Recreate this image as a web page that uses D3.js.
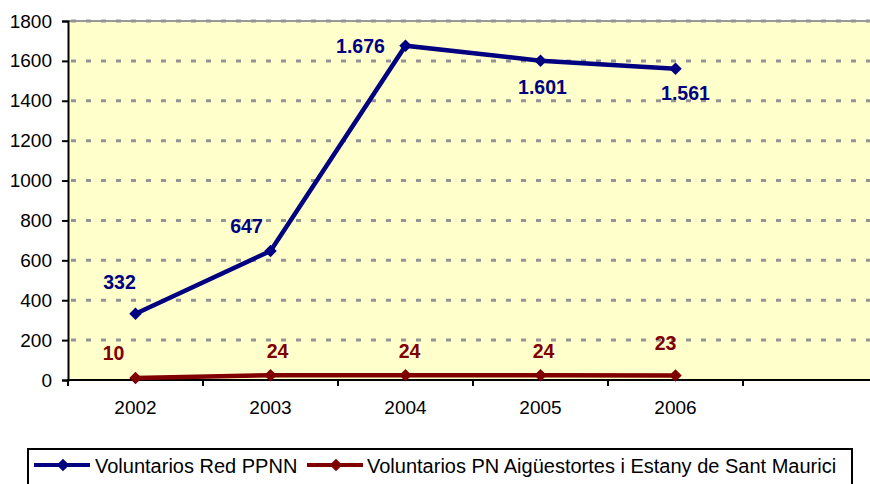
<!DOCTYPE html>
<html>
<head>
<meta charset="utf-8">
<script src="https://cdn.jsdelivr.net/npm/d3@7"></script>
<style>
  body { margin: 0; background: #fff; }
  svg { display: block; font-family: "Liberation Sans", Arial, sans-serif; }
</style>
</head>
<body>
<div id="chart"></div>
<script>
// categories (last slot is empty on the original axis)
const years = ["2002", "2003", "2004", "2005", "2006", ""];
const redPPNN = [332, 647, 1676, 1601, 1561];
const aiguestortes = [10, 24, 24, 24, 23];
const yTicks = [0, 200, 400, 600, 800, 1000, 1200, 1400, 1600, 1800];
const seriesNames = ["Voluntarios Red PPNN", "Voluntarios PN Aigüestortes i Estany de Sant Maurici"];

// label placement relative to each point (dx, dy of text baseline)
const blueLabelOffsets = [[-16, -25], [-24, -18], [-45, 7], [2, 33], [10, 31]];
const redLabelOffsets = [[-22, -18], [7, -17], [4, -17], [3, -17], [-10, -25]];

const width = 870, height = 484;
const plot = {left: 68, top: 21, bottom: 380, right: 878};

const svg = d3.select("#chart").append("svg")
    .attr("width", width)
    .attr("height", height);

const x = d3.scaleBand().domain(years).range([plot.left, plot.right]);
const y = d3.scaleLinear().domain([0, 1800]).range([plot.bottom, plot.top]);
const cx = d => x(d) + x.bandwidth() / 2;

const fmt = d3.formatLocale({decimal: ",", thousands: ".", grouping: [3], currency: ["", "€"]}).format(",d");

// plot background
svg.append("rect")
    .attr("x", plot.left).attr("y", plot.top)
    .attr("width", plot.right - plot.left).attr("height", plot.bottom - plot.top)
    .attr("fill", "#FFFFCC");

// top border of plot area
svg.append("line")
    .attr("x1", plot.left).attr("x2", width)
    .attr("y1", y(1800)).attr("y2", y(1800))
    .attr("stroke", "#999").attr("stroke-width", 2);

// gridlines
svg.selectAll(".grid")
    .data(yTicks.filter(d => d > 0))
    .enter().append("line")
    .attr("x1", plot.left + 3).attr("x2", width)
    .attr("y1", d => y(d)).attr("y2", d => y(d))
    .attr("stroke", "#949494")
    .attr("stroke-width", 3)
    .attr("stroke-dasharray", "5,10");

// y axis
const yAxis = d3.axisLeft(y).tickValues(yTicks).tickFormat(d3.format("d")).tickSize(6).tickPadding(10);
const gy = svg.append("g").attr("transform", "translate(" + plot.left + ",0)").call(yAxis);
gy.select(".domain").attr("stroke", "#000").attr("stroke-width", 2);
gy.selectAll(".tick line").attr("stroke", "#000").attr("stroke-width", 2);
gy.selectAll("text").attr("font-size", 19).attr("font-family", "Liberation Sans, Arial").attr("fill", "#000");

// x axis: labels centered, ticks on category boundaries
const xAxis = d3.axisBottom(x).tickSize(0).tickPadding(21);
const gx = svg.append("g").attr("transform", "translate(0," + plot.bottom + ")").call(xAxis);
gx.select(".domain").remove();
gx.selectAll("text").attr("font-size", 19).attr("font-family", "Liberation Sans, Arial").attr("fill", "#000");
svg.append("line")
    .attr("x1", plot.left - 1).attr("x2", width)
    .attr("y1", plot.bottom).attr("y2", plot.bottom)
    .attr("stroke", "#000").attr("stroke-width", 2);
svg.selectAll(".xtick")
    .data(years)
    .enter().append("line")
    .attr("x1", d => x(d)).attr("x2", d => x(d))
    .attr("y1", plot.bottom).attr("y2", plot.bottom + 6)
    .attr("stroke", "#000").attr("stroke-width", 2);

const diamond = d3.symbol().type(d3.symbolDiamond2).size(100);

function drawSeries(values, color, offsets) {
    const pts = values.map((v, i) => ({year: years[i], value: v}));
    const line = d3.line().x(d => cx(d.year)).y(d => y(d.value));
    svg.append("path")
        .datum(pts)
        .attr("fill", "none")
        .attr("stroke", color)
        .attr("stroke-width", 4.5)
        .attr("d", line);
    svg.selectAll(null)
        .data(pts).enter()
        .append("path")
        .attr("d", diamond)
        .attr("fill", color)
        .attr("transform", d => "translate(" + cx(d.year) + "," + y(d.value) + ")");
    svg.selectAll(null)
        .data(pts).enter()
        .append("text")
        .text(d => fmt(d.value))
        .attr("text-anchor", "middle")
        .attr("font-weight", "bold")
        .attr("font-size", 19.5)
        .attr("fill", color)
        .attr("x", (d, i) => cx(d.year) + offsets[i][0])
        .attr("y", (d, i) => y(d.value) + offsets[i][1]);
}

drawSeries(redPPNN, "#000080", blueLabelOffsets);
drawSeries(aiguestortes, "#800000", redLabelOffsets);

// legend
const legend = svg.append("g");
legend.append("rect")
    .attr("x", 28).attr("y", 449)
    .attr("width", 824).attr("height", 50)
    .attr("fill", "#fff").attr("stroke", "#000").attr("stroke-width", 2);

const legendItems = [
    {name: seriesNames[0], color: "#000080", x0: 34, tx: 95},
    {name: seriesNames[1], color: "#800000", x0: 307, tx: 367}
];
legendItems.forEach(function (it) {
    legend.append("line")
        .attr("x1", it.x0).attr("x2", it.x0 + 56)
        .attr("y1", 465).attr("y2", 465)
        .attr("stroke", it.color).attr("stroke-width", 4);
    legend.append("path")
        .attr("d", diamond)
        .attr("fill", it.color)
        .attr("transform", "translate(" + (it.x0 + 29) + ",465)");
    legend.append("text")
        .text(it.name)
        .attr("x", it.tx).attr("y", 473)
        .attr("font-size", 20)
        .attr("fill", "#000");
});
</script>
</body>
</html>
